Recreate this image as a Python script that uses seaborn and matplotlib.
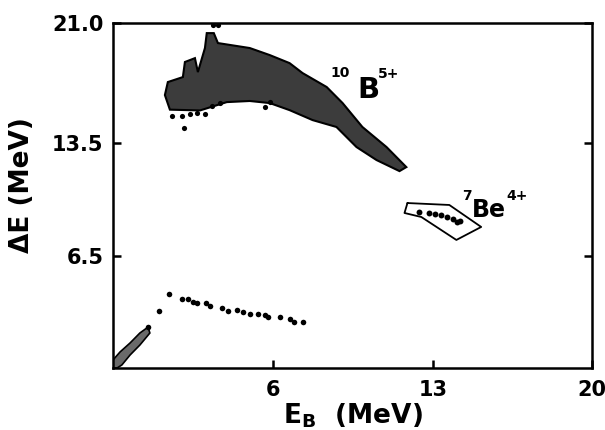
import matplotlib
matplotlib.use("Agg")
import matplotlib.pyplot as plt
import seaborn as sns

# outline of the dense 10B5+ event cloud (E_B, dE) in MeV
b10_x = [1.23, 1.36, 2.02, 2.11, 2.55, 2.68, 2.99, 3.07, 3.38, 3.56, 4.96, 5.84,
         6.71, 7.28, 8.34, 9.04, 9.91, 10.97, 11.84, 11.54, 10.53, 9.65, 8.77,
         7.72, 6.71, 5.84, 4.96, 3.95, 2.77, 1.45]
b10_y = [16.51, 17.32, 17.63, 18.57, 18.81, 17.94, 19.44, 20.37, 20.37, 19.75,
         19.44, 19.00, 18.50, 17.88, 17.01, 16.01, 14.52, 13.27, 12.02, 11.77,
         12.46, 13.27, 14.52, 14.95, 15.57, 16.01, 16.14, 16.07, 15.55, 15.60]

# loose events around the edge of the 10B cloud
b10_edge_x = [2.06, 1.54, 1.98, 2.33, 2.63, 2.99, 3.29, 3.64, 5.62, 5.84, 3.33, 3.55]
b10_edge_y = [14.45, 15.20, 15.20, 15.30, 15.40, 15.35, 15.80, 16.00, 15.76, 16.07,
              20.85, 20.85]

# 7Be4+ gate and events
be7_gate_x = [11.89, 13.73, 15.13, 14.04, 12.50, 11.76, 11.89]
be7_gate_y = [9.78, 9.66, 8.29, 7.48, 8.91, 9.16, 9.78]
be7_x = [12.41, 12.85, 13.12, 13.38, 13.64, 13.91, 14.08, 14.21]
be7_y = [9.22, 9.16, 9.10, 9.03, 8.91, 8.78, 8.60, 8.66]

# low-energy band
low_x = [0.97, 1.41, 1.98, 2.24, 2.46, 2.63, 3.03, 3.20, 3.73, 3.99, 4.39, 4.65,
         4.96, 5.31, 5.62, 5.75, 6.27, 6.71, 6.89, 7.28]
low_y = [3.05, 4.11, 3.80, 3.80, 3.61, 3.55, 3.55, 3.36, 3.24, 3.05, 3.11, 2.99,
         2.86, 2.86, 2.80, 2.68, 2.68, 2.55, 2.37, 2.37]

# streak near the origin
streak_x = [-1.05, -0.74, -0.30, 0.13, 0.49, 0.57, 0.13, -0.30, -0.66, -0.87, -1.05]
streak_y = [0.00, 0.50, 1.06, 1.68, 2.05, 1.68, 0.93, 0.31, -0.31, -0.50, -0.50]

x_ticks = [6, 13, 20]
y_ticks = [6.5, 13.5, 21.0]

sns.set_style("ticks", {"text.color": "black", "axes.labelcolor": "black",
                        "xtick.color": "black", "ytick.color": "black"})
plt.rcParams["font.family"] = ["DejaVu Sans"]
plt.rcParams["font.weight"] = "bold"

fig = plt.figure(figsize=(6.05, 4.30), dpi=100)
ax = fig.add_axes([0.1868, 0.1442, 0.7917, 0.8023])

ax.fill(b10_x, b10_y, facecolor="#3c3c3c", edgecolor="black", linewidth=1.5)
ax.fill(streak_x, streak_y, facecolor="#6a6a6a", edgecolor="black", linewidth=1.2)
ax.plot(be7_gate_x, be7_gate_y, color="black", linewidth=1.3)

sns.scatterplot(x=b10_edge_x, y=b10_edge_y, ax=ax, color="black", s=14, linewidth=0)
sns.scatterplot(x=be7_x, y=be7_y, ax=ax, color="black", s=18, linewidth=0)
sns.scatterplot(x=low_x, y=low_y, ax=ax, color="black", s=16, linewidth=0)
sns.scatterplot(x=[0.49], y=[2.05], ax=ax, color="black", s=16, linewidth=0)

ax.set_xlim(-1.05, 20)
ax.set_ylim(-0.5, 21.0)
ax.set_xticks(x_ticks)
ax.set_xticklabels([str(t) for t in x_ticks])
ax.set_yticks(y_ticks)
ax.set_yticklabels(["%.1f" % t for t in y_ticks])
ax.tick_params(axis="both", direction="in", length=6, width=1.8,
               labelsize=15, pad=7, colors="black")
ax.tick_params(axis="x", pad=9)
ax.tick_params(axis="y", right=True)
for lab in ax.get_xticklabels() + ax.get_yticklabels():
    lab.set_fontweight("bold")
for sp in ax.spines.values():
    sp.set_visible(True)
    sp.set_linewidth(1.8)
    sp.set_color("black")

# particle labels
ax.text(9.35, 17.63, "10", fontsize=10, fontweight="bold", ha="right", va="baseline")
ax.text(9.70, 16.32, "B", fontsize=21, fontweight="bold", ha="left", va="baseline")
ax.text(10.57, 17.57, "5+", fontsize=10, fontweight="bold", ha="left", va="baseline")
ax.text(14.70, 9.97, "7", fontsize=10, fontweight="bold", ha="right", va="baseline")
ax.text(14.74, 8.91, "Be", fontsize=17, fontweight="bold", ha="left", va="baseline")
ax.text(16.25, 9.95, "4+", fontsize=10, fontweight="bold", ha="left", va="baseline")

fig.text(353 / 605, 1 - 402 / 430, r"E$_{\mathbf{B}}$  (MeV)", fontsize=19,
         fontweight="bold", ha="center", va="top")
fig.text(22 / 605, 1 - 185 / 430, "ΔE (MeV)", fontsize=19, fontweight="bold",
         rotation=90, ha="center", va="center")

fig.savefig("out.png", dpi=100)
